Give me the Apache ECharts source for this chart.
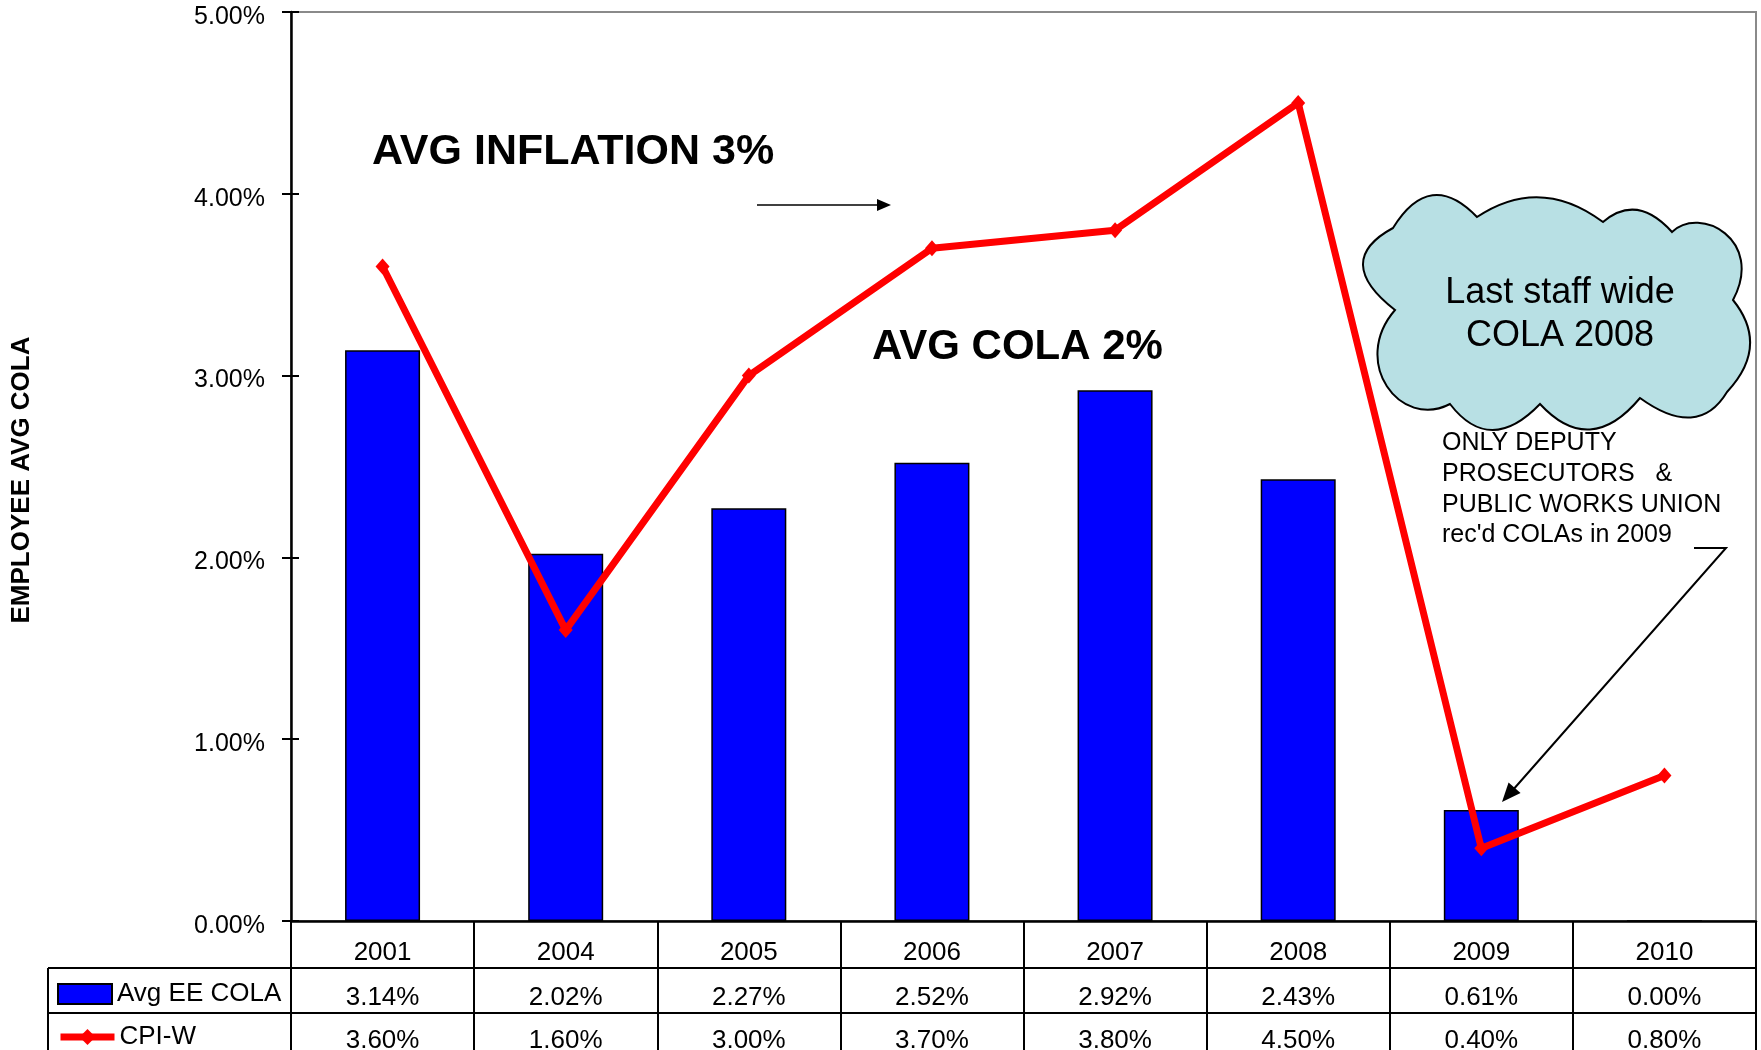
<!DOCTYPE html>
<html>
<head>
<meta charset="utf-8">
<title>Employee Avg COLA vs CPI-W</title>
<script src="https://cdn.jsdelivr.net/npm/echarts@6.0.0/dist/echarts.min.js"></script>
<style>
    html, body { margin: 0; padding: 0; background: #fff; }
    #chart { width: 1761px; height: 1050px; }
</style>
</head>
<body>
<div id="chart"></div>
<script>
var years = ['2001', '2004', '2005', '2006', '2007', '2008', '2009', '2010'];
var avgCola = [3.14, 2.02, 2.27, 2.52, 2.92, 2.43, 0.61, 0.00];
var cpiW = [3.60, 1.60, 3.00, 3.70, 3.80, 4.50, 0.40, 0.80];
var yTicks = [0, 1, 2, 3, 4, 5];

var fontFam = '"Liberation Sans", Arial, sans-serif';

function pct(v) {
    return v.toFixed(2) + '%';
}

// arrow head helper, tip at (x2,y2) coming from (x1,y1)
function arrowHead(x1, y1, x2, y2, len, half) {
    var dx = x2 - x1, dy = y2 - y1;
    var l = Math.sqrt(dx * dx + dy * dy);
    var ux = dx / l, uy = dy / l;
    var bx = x2 - ux * len, by = y2 - uy * len;
    return [[x2, y2], [bx - uy * half, by + ux * half], [bx + uy * half, by - ux * half]];
}

var cloudPath = 'M1393 228 Q1430 168 1477 217 Q1540 175 1603 222 Q1637 193 1672 232 ' +
    'C1700 205 1765 240 1733 300 Q1770 346 1727 392 Q1698 440 1640 398 ' +
    'Q1590 458 1540 404 Q1490 456 1450 404 C1400 430 1350 362 1395 310 ' +
    'Q1332 261 1393 228 Z';

// graphic component has no plain 'path' type, so register the cloud as a shape
echarts.graphic.registerShape('cloudShape', echarts.graphic.extendPath(cloudPath, {}));

var chartDom = document.getElementById('chart');
var myChart = echarts.init(chartDom);

var tableText = { fontSize: 26, lineHeight: 28, color: '#000', fontFamily: fontFam };

var option = {
    animation: false,
    textStyle: { fontFamily: fontFam, color: '#000' },
    grid: {
        left: 291, right: 5, top: 12, bottom: 129,
        outerBoundsMode: 'none', containLabel: false,
        show: true, borderColor: '#8a8a8a', borderWidth: 2
    },
    legend: [
        {
            data: ['Avg EE COLA'], left: 57, top: 981, padding: 0,
            icon: 'rect', itemWidth: 54, itemHeight: 20,
            textStyle: { fontSize: 26, lineHeight: 26, color: '#000', fontFamily: fontFam },
            selectedMode: false
        },
        {
            data: ['CPI-W'], left: 57, top: 1024, padding: 0,
            itemWidth: 54, itemHeight: 20,
            lineStyle: { color: '#ff0000', width: 7 },
            textStyle: { fontSize: 26, lineHeight: 26, color: '#000', fontFamily: fontFam },
            selectedMode: false
        }
    ],
    xAxis: [
        {
            type: 'category', data: years, position: 'bottom',
            axisLine: { lineStyle: { color: '#000', width: 2.5 } },
            axisTick: { show: true, interval: 0, length: 130, lineStyle: { color: '#000', width: 2 } },
            axisLabel: Object.assign({ interval: 0, margin: 18 }, tableText),
            splitLine: { show: false }
        },
        {
            type: 'category', data: years, position: 'bottom',
            axisLine: { show: false }, axisTick: { show: false },
            axisLabel: Object.assign({
                interval: 0, margin: 63,
                formatter: function (v, i) { return pct(avgCola[i]); }
            }, tableText)
        },
        {
            type: 'category', data: years, position: 'bottom',
            axisLine: { show: false }, axisTick: { show: false },
            axisLabel: Object.assign({
                interval: 0, margin: 106,
                formatter: function (v, i) { return pct(cpiW[i]); }
            }, tableText)
        }
    ],
    yAxis: [
        {
            type: 'value', position: 'left',
            min: yTicks[0], max: yTicks[yTicks.length - 1], interval: 1,
            axisLine: { show: true, lineStyle: { color: '#000', width: 2.5 } },
            axisTick: { show: true, length: 9, lineStyle: { color: '#000', width: 2 } },
            axisLabel: {
                margin: 26, fontSize: 25, color: '#000',
                verticalAlign: 'top', lineHeight: 10,
                formatter: function (v) { return pct(v); }
            },
            splitLine: { show: false }
        },
        {
            // inner half of the crossing ticks
            type: 'value', position: 'left',
            min: yTicks[0], max: yTicks[yTicks.length - 1], interval: 1,
            axisLine: { show: false },
            axisTick: { show: true, inside: true, length: 8, lineStyle: { color: '#000', width: 2 } },
            axisLabel: { show: false },
            splitLine: { show: false }
        }
    ],
    series: [
        {
            name: 'Avg EE COLA', type: 'bar', data: avgCola,
            xAxisIndex: 0, yAxisIndex: 0,
            barWidth: 75,
            itemStyle: { color: '#0000ff', borderColor: '#000', borderWidth: 1.5 },
            z: 2
        },
        {
            name: 'CPI-W', type: 'line', data: cpiW,
            xAxisIndex: 0, yAxisIndex: 0,
            symbol: 'diamond', symbolSize: [14, 16],
            lineStyle: { color: '#ff0000', width: 7 },
            itemStyle: { color: '#ff0000' },
            z: 3
        }
    ],
    graphic: [
        // table frame
        { type: 'line', shape: { x1: 48, y1: 968, x2: 1756, y2: 968 }, style: { stroke: '#000', lineWidth: 2 }, z: 10 },
        { type: 'line', shape: { x1: 48, y1: 1013, x2: 1756, y2: 1013 }, style: { stroke: '#000', lineWidth: 2 }, z: 10 },
        { type: 'line', shape: { x1: 48, y1: 968, x2: 48, y2: 1050 }, style: { stroke: '#000', lineWidth: 2 }, z: 10 },
        // y axis title
        {
            type: 'text', x: 22, y: 480, rotation: Math.PI / 2,
            style: {
                text: 'EMPLOYEE AVG COLA', fill: '#000',
                font: 'bold 26px ' + fontFam,
                align: 'center', verticalAlign: 'middle',
                textAlign: 'center', textVerticalAlign: 'middle'
            }
        },
        {
            type: 'text', x: 372, y: 152,
            style: {
                text: 'AVG INFLATION 3%', fill: '#000', font: 'bold 43px ' + fontFam,
                align: 'left', verticalAlign: 'middle', textAlign: 'left', textVerticalAlign: 'middle'
            }, z: 10
        },
        {
            type: 'text', x: 872, y: 347,
            style: {
                text: 'AVG COLA 2%', fill: '#000', font: 'bold 42px ' + fontFam,
                align: 'left', verticalAlign: 'middle', textAlign: 'left', textVerticalAlign: 'middle'
            }, z: 10
        },
        // short arrow
        { type: 'line', shape: { x1: 757, y1: 205, x2: 880, y2: 205 }, style: { stroke: '#000', lineWidth: 1.5 }, z: 10 },
        { type: 'polygon', shape: { points: arrowHead(757, 205, 891, 205, 14, 6) }, style: { fill: '#000' }, z: 10 },
        // cloud
        { type: 'cloudShape', style: { fill: '#b8e0e4', stroke: '#000', lineWidth: 2 }, z: 10 },
        {
            type: 'text', x: 1560, y: 315,
            style: {
                text: 'Last staff wide\nCOLA 2008', fill: '#000', font: '36px ' + fontFam, lineHeight: 43,
                align: 'center', verticalAlign: 'middle', textAlign: 'center', textVerticalAlign: 'middle'
            }, z: 11
        },
        {
            type: 'text', x: 1442, y: 428,
            style: {
                text: 'ONLY DEPUTY\nPROSECUTORS   &\nPUBLIC WORKS UNION\nrec\'d COLAs in 2009',
                fill: '#000', font: '25px ' + fontFam, lineHeight: 30.7,
                align: 'left', verticalAlign: 'top', textAlign: 'left', textVerticalAlign: 'top'
            }, z: 11
        },
        // long arrow to the 2009 bar
        {
            type: 'polyline', shape: { points: [[1694, 548], [1726, 548], [1512, 791]] },
            style: { stroke: '#000', lineWidth: 2, fill: null }, z: 12
        },
        { type: 'polygon', shape: { points: arrowHead(1726, 548, 1502, 802, 19, 8) }, style: { fill: '#000' }, z: 12 }
    ]
};

myChart.setOption(option);
</script>
</body>
</html>
